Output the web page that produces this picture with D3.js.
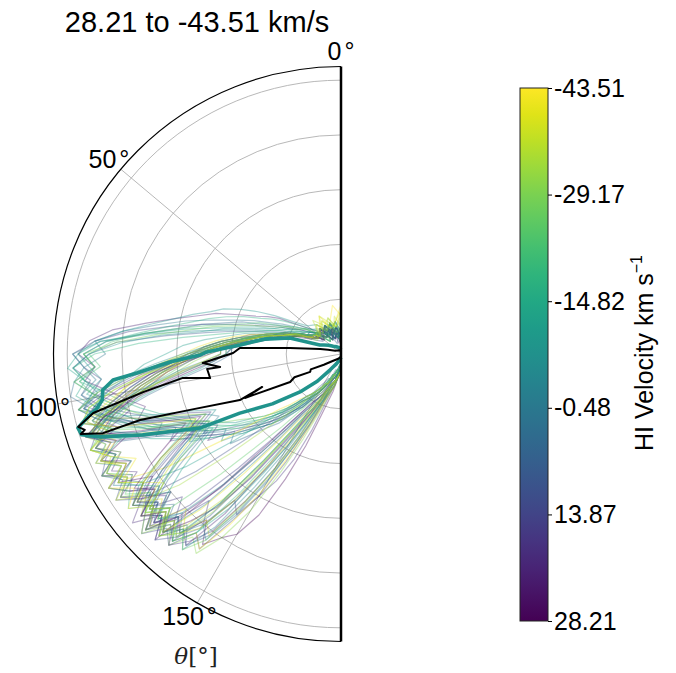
<!DOCTYPE html>
<html>
<head>
<meta charset="utf-8">
<script src="https://cdn.jsdelivr.net/npm/d3@7"></script>
<style>
  body { margin: 0; background: #fff; }
  svg { display: block; font-family: "Liberation Sans", Arial, sans-serif; }
</style>
</head>
<body>
<div id="chart"></div>
<script>
// angle grid (degrees) shared by all channel profiles: coarse near the axis, 3 deg in the lobe
const thetaGrid = [0,10,20,30,40,50,55,
  60,63,66,69,72,75,78,81,84,87,
  90,93,96,99,102,105,108,111,114,117,
  120,123,126,129,132,135,138,141,144,147,
  150,153,156,159,162,
  168,174,180];

// HI velocity of each channel (km/s), same order as channelRadii
const velocities = [21.9,14.2,8.7,3.1,0.2,-5.4,-8.2,-9.6,-13.8,-16.6,-18.0,-22.2,-27.8,
  27.5,24.8,19.6,17.0,12.8,11.5,5.9,-2.6,-11.0,-19.4,-25.0,-30.6,-33.4,-36.2,-39.0,-41.8,-43.5,
  26.0,23.3,18.3,15.5,10.1,7.3,4.5,-1.2,-4.0,-6.8,-12.4,-20.8,-26.4,-32.0,-37.6,-40.4];

// radial profile of each channel, one value per thetaGrid entry
const channelRadii = [
  [0.4,0.3,0.6,0.4,0.5,0.7,0.9, 1.3,1.5,1.7,2.0,2.4,2.7,3.1,3.6,4.2,4.6, 4.8,4.5,4.7,4.3,4.0,3.7,3.9,3.4,3.1,2.8, 2.6,2.9,2.4,2.1,1.9,1.7,1.5,1.3,1.2,1.0, 0.9,0.8,0.7,0.6,0.5, 0.4,0.3,0.2],
  [0.5,0.3,0.4,0.6,0.5,0.6,0.7, 0.9,1.0,1.2,1.4,1.7,2.1,2.6,3.2,3.9,4.5, 4.9,4.7,4.4,4.6,4.2,4.4,4.0,3.6,3.3,3.5, 3.0,2.7,2.5,2.2,2.0,1.8,1.6,1.3,1.1,0.9, 0.8,0.7,0.6,0.5,0.4, 0.3,0.3,0.2],
  [0.3,0.5,0.4,0.3,0.6,0.5,0.6, 0.7,0.8,0.9,1.1,1.3,1.6,2.0,2.5,3.2,4.1, 4.6,4.9,4.6,4.8,4.5,4.1,3.7,3.4,3.0,2.7, 2.9,2.5,2.2,2.0,1.7,1.5,1.2,1.0,0.9,0.7, 0.6,0.5,0.5,0.4,0.3, 0.3,0.2,0.2],
  [0.2,0.4,0.6,0.4,0.5,0.6,0.7, 0.9,1.1,1.3,1.5,1.9,2.2,2.6,3.0,3.6,4.3, 4.7,4.5,4.9,5.0,4.7,4.4,4.1,3.8,3.5,3.2, 3.0,2.7,2.4,2.6,2.2,1.9,1.7,1.4,1.2,1.0, 0.8,0.7,0.6,0.5,0.4, 0.3,0.3,0.2],
  [0.3,0.5,0.3,0.6,0.4,0.6,0.8, 1.0,1.2,1.4,1.7,2.0,2.4,2.9,3.4,4.0,4.5, 4.3,4.7,4.5,4.8,4.6,4.2,3.9,3.5,3.7,3.3, 2.9,2.6,2.3,2.1,1.8,1.6,1.4,1.2,1.0,0.8, 0.7,0.6,0.5,0.4,0.4, 0.3,0.2,0.2],
  [0.4,0.6,0.5,0.3,0.5,0.6,0.7, 0.8,0.9,1.0,1.2,1.4,1.7,2.1,2.7,3.5,4.4, 4.9,4.7,4.9,4.6,4.8,4.5,4.2,3.8,3.4,3.1, 2.8,2.5,2.7,2.3,2.0,1.8,1.5,1.3,1.1,0.9, 0.8,0.7,0.6,0.5,0.4, 0.3,0.3,0.2],
  [0.3,0.4,0.6,0.5,0.7,0.8,1.0, 1.4,1.7,2.0,2.3,2.5,2.8,3.1,3.5,4.0,4.5, 4.8,4.6,4.4,4.7,4.3,4.0,3.6,3.3,3.0,2.8, 2.5,2.3,2.0,1.8,1.6,1.4,1.2,1.0,0.9,0.8, 0.7,0.6,0.5,0.4,0.4, 0.3,0.2,0.2],
  [0.4,0.3,0.5,0.4,0.6,0.7,0.8, 0.9,1.0,1.2,1.3,1.5,1.8,2.2,2.6,3.3,4.0, 4.6,4.9,4.7,4.5,4.8,4.4,4.0,3.7,3.3,3.0, 3.2,2.8,2.5,2.2,1.9,1.7,1.5,1.3,1.1,0.9, 0.8,0.7,0.6,0.5,0.4, 0.3,0.3,0.2],
  [0.5,0.4,0.3,0.6,0.4,0.6,0.7, 0.8,1.0,1.1,1.3,1.6,1.9,2.3,2.9,3.6,4.4, 4.8,5.0,4.7,4.9,4.6,4.3,4.5,4.1,3.8,3.4, 3.1,2.8,2.5,2.3,2.0,1.8,1.6,1.4,1.2,1.0, 0.8,0.7,0.6,0.5,0.4, 0.4,0.3,0.2],
  [0.3,0.5,0.4,0.6,0.5,0.7,0.9, 1.2,1.4,1.6,1.9,2.2,2.5,2.8,3.2,3.7,4.3, 4.7,4.5,4.8,4.4,4.1,3.8,3.5,3.2,2.9,3.1, 2.7,2.4,2.2,1.9,1.7,1.5,1.3,1.1,1.0,0.9, 0.8,0.7,0.6,0.5,0.4, 0.3,0.2,0.2],
  [0.3,0.6,0.4,0.5,0.3,0.6,0.7, 0.8,0.9,1.1,1.2,1.4,1.6,1.9,2.3,2.9,3.7, 4.5,4.9,4.7,4.4,4.6,4.2,3.9,3.6,3.2,2.9, 2.6,2.4,2.1,1.9,1.7,1.5,1.3,1.1,1.0,0.8, 0.7,0.6,0.5,0.5,0.4, 0.3,0.3,0.2],
  [0.2,0.4,0.3,0.5,0.6,0.6,0.8, 1.0,1.1,1.3,1.6,1.8,2.1,2.5,3.0,3.6,4.2, 4.6,4.4,4.8,4.6,4.3,4.5,4.1,3.7,3.4,3.0, 2.8,2.5,2.3,2.0,1.8,1.6,1.4,1.2,1.0,0.9, 0.8,0.7,0.6,0.5,0.4, 0.3,0.2,0.2],
  [0.5,0.3,0.4,0.5,0.7,0.6,0.8, 0.9,1.1,1.2,1.4,1.7,2.0,2.4,2.8,3.4,4.1, 4.7,4.5,4.9,4.6,4.4,4.0,3.7,3.3,3.0,2.7, 2.5,2.2,2.0,1.8,1.6,1.4,1.2,1.1,0.9,0.8, 0.7,0.6,0.5,0.4,0.4, 0.3,0.3,0.2],
  [0.2,0.4,0.3,0.5,0.4,0.6,0.5, 0.6,0.7,0.8,0.9,1.0,1.2,1.4,1.6,1.9,2.2, 2.5,2.8,3.2,3.5,3.9,4.3,4.6,4.2,4.8,4.4, 4.7,4.1,4.5,4.0,4.6,4.2,4.4,3.9,4.3,4.0, 3.8,3.3,2.5,1.8,1.2, 0.7,0.4,0.2],
  [0.3,0.2,0.5,0.3,0.6,0.4,0.5, 0.6,0.7,0.8,1.0,1.1,1.3,1.5,1.8,2.0,2.3, 2.6,2.9,3.3,3.7,4.1,4.5,4.9,4.5,4.8,4.3, 4.9,4.6,4.2,4.7,4.4,4.8,3.2,2.1,1.5,1.2, 1.0,0.9,0.8,0.7,0.6, 0.5,0.3,0.2],
  [0.2,0.5,0.4,0.3,0.5,0.6,0.5, 0.7,0.8,0.9,1.0,1.2,1.4,1.7,1.9,2.2,2.5, 2.7,3.0,3.4,3.8,4.2,4.0,4.5,4.8,4.4,4.7, 4.3,4.8,4.5,4.9,4.4,4.7,4.3,4.5,3.6,2.4, 1.6,1.2,0.9,0.7,0.6, 0.5,0.3,0.2],
  [0.3,0.4,0.5,0.6,0.4,0.5,0.6, 0.6,0.8,0.9,1.0,1.2,1.3,1.5,1.8,2.1,2.4, 2.8,3.1,3.5,3.9,4.3,4.6,4.3,4.8,4.5,4.9, 4.4,4.6,4.1,4.4,3.9,4.3,3.6,4.0,3.3,3.5, 3.0,2.6,2.1,1.5,1.0, 0.6,0.4,0.3],
  [0.3,0.4,0.3,0.5,0.4,0.6,0.5, 0.6,0.7,0.8,0.9,1.1,1.3,1.5,1.7,2.0,2.3, 2.6,3.0,3.4,3.8,4.1,4.5,4.8,4.4,4.7,4.9, 4.5,4.8,4.4,4.6,4.9,4.5,4.7,4.2,4.4,3.6, 3.0,2.2,1.5,1.1,0.8, 0.6,0.4,0.2],
  [0.2,0.3,0.5,0.4,0.6,0.5,0.4, 0.5,0.6,0.8,0.9,1.0,1.2,1.4,1.6,1.9,2.2, 2.5,2.9,3.2,3.6,4.0,4.4,4.7,4.9,4.5,4.8, 4.6,4.9,4.5,3.4,2.3,1.6,1.3,1.1,1.0,0.9, 0.8,0.7,0.6,0.5,0.5, 0.4,0.3,0.2],
  [0.4,0.3,0.2,0.5,0.4,0.6,0.5, 0.6,0.7,0.9,1.0,1.2,1.4,1.6,1.9,2.2,2.5, 2.8,3.1,3.5,3.9,4.3,4.7,4.4,4.8,4.5,4.9, 4.6,4.3,4.7,4.4,4.8,4.2,4.5,3.5,2.4,1.7, 1.3,1.1,0.9,0.7,0.6, 0.5,0.3,0.2],
  [0.2,0.3,0.4,0.5,0.3,0.6,0.5, 0.6,0.7,0.8,1.0,1.1,1.3,1.6,1.8,2.1,2.4, 2.7,3.0,3.3,3.7,4.0,4.4,4.8,4.6,4.9,4.5, 4.8,4.4,4.7,4.3,4.6,4.1,4.4,4.0,4.2,3.5, 2.7,1.9,1.4,1.0,0.8, 0.6,0.4,0.2],
  [0.2,0.5,0.4,0.3,0.6,0.5,0.6, 0.7,0.8,1.0,1.1,1.3,1.5,1.8,2.1,2.5,2.9, 3.2,3.6,3.9,4.3,4.6,4.8,4.5,4.9,4.6,4.3, 4.7,4.4,3.5,2.5,1.8,1.4,1.2,1.0,0.9,0.8, 0.7,0.6,0.6,0.5,0.4, 0.4,0.3,0.2],
  [0.4,0.3,0.5,0.4,0.3,0.6,0.5, 0.6,0.7,0.8,1.0,1.1,1.3,1.5,1.8,2.0,2.3, 2.6,2.9,3.3,3.6,4.0,4.4,4.7,4.3,4.8,4.5, 4.9,4.6,4.8,4.4,4.7,4.3,4.6,4.2,3.1,2.2, 1.6,1.3,1.0,0.8,0.6, 0.5,0.3,0.2],
  [0.3,0.5,0.6,0.4,0.5,0.4,0.6, 0.6,0.7,0.8,0.9,1.1,1.2,1.4,1.7,1.9,2.2, 2.5,2.8,3.1,3.5,3.9,4.2,4.6,4.9,4.5,4.8, 4.4,4.7,4.3,4.6,4.2,3.1,2.2,1.7,1.3,1.1, 0.9,0.8,0.7,0.6,0.5, 0.4,0.3,0.2],
  [0.2,0.4,0.5,0.3,0.4,0.6,0.5, 0.5,0.6,0.8,0.9,1.0,1.2,1.4,1.6,1.8,2.1, 2.4,2.7,3.0,3.4,3.8,4.1,4.5,4.8,4.4,4.9, 4.5,4.8,4.3,4.6,4.9,4.4,4.7,4.3,4.5,4.0, 3.3,2.4,1.7,1.2,0.9, 0.6,0.4,0.2],
  [0.6,0.4,0.5,0.7,0.5,0.6,0.5, 0.6,0.7,0.8,1.0,1.1,1.3,1.5,1.8,2.1,2.4, 2.7,3.0,3.4,3.8,4.2,4.5,4.9,4.6,4.8,4.4, 4.7,4.3,4.6,3.8,2.7,1.9,1.5,1.2,1.0,0.9, 0.8,0.7,0.6,0.5,0.5, 0.4,0.3,0.3],
  [0.5,0.7,0.4,0.6,0.8,0.5,0.6, 0.6,0.7,0.9,1.0,1.2,1.4,1.6,1.9,2.2,2.5, 2.8,3.2,3.6,4.0,4.3,4.7,4.4,4.9,4.6,4.8, 4.5,4.9,4.4,4.7,4.3,4.6,4.2,3.4,2.5,1.8, 1.4,1.1,0.9,0.7,0.6, 0.5,0.4,0.2],
  [0.8,0.5,0.7,0.6,0.4,0.6,0.5, 0.6,0.7,0.8,0.9,1.1,1.3,1.5,1.7,2.0,2.3, 2.6,2.9,3.3,3.7,4.1,4.4,4.8,4.5,4.9,4.4, 4.7,4.3,4.6,4.2,4.5,4.0,4.3,3.9,4.1,3.2, 2.5,1.8,1.3,1.0,0.8, 0.6,0.4,0.3],
  [0.9,0.6,0.5,0.8,0.6,0.5,0.6, 0.7,0.8,0.9,1.1,1.2,1.4,1.7,2.0,2.3,2.6, 2.9,3.3,3.7,4.0,4.4,4.8,4.5,4.9,4.6,4.2, 4.6,3.8,2.7,1.9,1.5,1.3,1.1,1.0,0.9,0.8, 0.7,0.6,0.6,0.5,0.4, 0.4,0.3,0.3],
  [0.7,0.9,0.6,0.5,0.7,0.5,0.6, 0.6,0.7,0.8,1.0,1.1,1.3,1.5,1.7,2.0,2.3, 2.6,2.9,3.2,3.6,4.0,4.3,4.7,4.4,4.8,4.5, 4.9,4.5,4.8,4.4,4.7,4.3,4.6,4.2,4.4,3.7, 2.9,2.1,1.5,1.1,0.8, 0.6,0.4,0.3],
  [0.3,0.5,0.4,0.6,0.5,0.4,0.6, 0.6,0.7,0.8,0.9,1.0,1.2,1.3,1.5,1.7,2.0, 2.1,2.3,2.7,3.2,3.8,4.5,4.8,3.9,3.1,3.5, 4.0,4.5,4.2,4.7,4.3,4.6,4.1,3.6,2.8,2.0, 1.5,1.2,1.0,0.8,0.7, 0.5,0.4,0.2],
  [0.4,0.3,0.5,0.4,0.6,0.5,0.5, 0.6,0.6,0.7,0.9,1.0,1.1,1.3,1.5,1.8,2.1, 2.4,2.9,3.5,4.1,4.6,4.9,4.3,3.4,2.8,3.2, 3.8,4.3,4.7,4.4,4.8,4.2,3.3,2.3,1.7,1.3, 1.1,0.9,0.8,0.7,0.6, 0.5,0.3,0.2],
  [0.2,0.4,0.5,0.3,0.6,0.5,0.6, 0.7,0.8,0.9,1.0,1.2,1.3,1.5,1.7,1.9,2.2, 2.2,2.4,2.8,3.3,3.9,4.5,4.9,4.4,3.6,3.0, 3.4,3.9,4.4,4.1,4.6,4.3,4.7,4.4,4.0,3.2, 2.4,1.7,1.2,0.9,0.7, 0.5,0.4,0.2],
  [0.5,0.4,0.3,0.5,0.6,0.4,0.6, 0.6,0.7,0.8,1.0,1.1,1.2,1.4,1.6,1.9,2.2, 2.6,3.1,3.7,4.3,4.8,4.5,3.8,3.0,2.6,2.9, 3.5,4.1,4.6,4.3,4.7,3.9,2.8,2.0,1.5,1.2, 1.0,0.9,0.8,0.6,0.5, 0.4,0.3,0.2],
  [0.3,0.5,0.4,0.6,0.4,0.5,0.6, 0.7,0.8,0.8,1.0,1.1,1.3,1.4,1.6,1.8,2.1, 2.1,2.4,2.9,3.4,4.0,4.6,4.8,4.0,3.3,2.9, 3.3,3.8,4.3,4.7,4.4,4.8,4.5,4.1,3.3,2.5, 1.9,1.4,1.1,0.9,0.7, 0.5,0.4,0.2],
  [0.4,0.3,0.6,0.5,0.4,0.6,0.5, 0.6,0.7,0.9,1.0,1.1,1.3,1.5,1.7,2.0,2.3, 2.7,3.2,3.8,4.4,4.9,4.6,4.0,3.2,2.7,3.0, 3.6,4.2,4.6,4.3,4.8,4.4,4.6,3.8,2.7,1.9, 1.4,1.1,0.9,0.7,0.6, 0.5,0.3,0.2],
  [0.3,0.4,0.3,0.5,0.6,0.5,0.6, 0.7,0.7,0.8,1.0,1.1,1.2,1.4,1.6,1.8,2.0, 2.0,2.2,2.5,3.0,3.6,4.3,4.9,4.5,3.7,3.1, 2.8,3.3,3.9,4.4,4.1,4.6,4.2,4.5,4.1,3.4, 2.6,1.9,1.4,1.0,0.8, 0.6,0.4,0.2],
  [0.5,0.3,0.4,0.6,0.5,0.6,0.7, 0.7,0.8,0.9,1.1,1.2,1.4,1.6,1.8,2.1,2.4, 2.8,3.3,3.9,4.5,4.9,4.6,4.1,3.3,2.7,2.5, 2.9,3.5,4.1,4.5,4.2,4.6,3.7,2.6,1.9,1.4, 1.2,1.0,0.8,0.7,0.6, 0.5,0.3,0.2],
  [0.3,0.5,0.4,0.3,0.5,0.6,0.6, 0.7,0.8,0.9,1.0,1.2,1.3,1.5,1.7,2.0,2.2, 2.2,2.5,3.0,3.5,4.1,4.7,4.6,4.0,3.2,2.8, 3.1,3.6,4.0,4.5,4.2,4.6,4.3,4.6,3.9,2.9, 2.1,1.5,1.1,0.9,0.7, 0.5,0.4,0.2],
  [0.4,0.6,0.5,0.4,0.6,0.5,0.7, 0.7,0.8,1.0,1.1,1.2,1.4,1.6,1.9,2.2,2.5, 2.9,3.4,4.0,4.6,4.9,4.4,3.6,2.9,2.5,2.8, 3.3,3.9,4.4,4.0,4.5,4.1,3.2,2.3,1.7,1.3, 1.1,0.9,0.8,0.7,0.5, 0.4,0.3,0.2],
  [0.3,0.4,0.6,0.4,0.5,0.6,0.6, 0.7,0.8,0.9,1.0,1.1,1.3,1.5,1.7,1.9,2.0, 2.1,2.3,2.6,3.1,3.7,4.4,4.9,4.3,3.5,2.9, 2.7,3.1,3.6,4.1,4.5,4.2,4.6,4.2,3.5,2.6, 1.9,1.4,1.1,0.9,0.7, 0.5,0.3,0.2],
  [0.4,0.3,0.5,0.6,0.4,0.6,0.6, 0.7,0.8,0.9,1.0,1.2,1.3,1.5,1.8,2.0,2.3, 2.7,3.1,3.6,4.2,4.7,4.9,4.4,3.7,3.0,3.3, 3.8,4.4,4.1,4.6,4.3,4.7,4.4,3.5,2.4,1.7, 1.3,1.1,0.9,0.7,0.6, 0.5,0.3,0.2],
  [0.5,0.4,0.6,0.5,0.3,0.5,0.6, 0.6,0.7,0.8,0.9,1.1,1.2,1.4,1.6,1.8,2.1, 2.1,2.4,2.8,3.4,4.0,4.6,4.5,3.8,3.1,2.7, 3.0,3.5,4.0,4.5,4.2,4.7,4.3,4.6,4.2,3.3, 2.4,1.7,1.2,0.9,0.7, 0.6,0.4,0.3],
  [0.6,0.5,0.7,0.5,0.6,0.5,0.6, 0.7,0.8,0.9,1.0,1.2,1.4,1.6,1.8,2.1,2.4, 2.8,3.3,3.9,4.5,4.9,4.5,3.8,3.1,2.7,3.1, 3.7,4.3,4.7,4.4,4.8,4.3,4.5,3.7,2.6,1.8, 1.4,1.1,0.9,0.7,0.6, 0.5,0.4,0.3],
  [0.7,0.5,0.6,0.8,0.5,0.6,0.5, 0.6,0.7,0.8,1.0,1.1,1.3,1.5,1.7,1.9,2.2, 2.2,2.5,2.9,3.4,4.0,4.6,4.8,4.1,3.4,2.9, 3.2,3.7,4.2,4.6,4.3,4.7,4.4,4.1,3.3,2.4, 1.8,1.3,1.0,0.8,0.7, 0.5,0.4,0.3],
  [0.8,0.6,0.5,0.7,0.6,0.5,0.6, 0.6,0.7,0.9,1.0,1.1,1.3,1.5,1.7,2.0,2.3, 2.6,3.0,3.6,4.2,4.7,4.9,4.3,3.5,2.9,3.2, 3.8,4.3,4.0,4.5,4.2,4.6,3.8,2.8,2.0,1.5, 1.2,1.0,0.8,0.7,0.6, 0.5,0.4,0.3]
];

// thick highlighted profile
const highlightVelocity = -8.5;
const highlightTheta = [0,15,30,45,55,62,66.8,72.6,79,84.9,89.1,90.4,92.7,95.3,96.5,98.6,100.9,102.5,104.1,105.7,107.3,109,112.2,117.7,120.3,126,132.8,139,145.5,155,165,180];
const highlightR = [0.08,0.12,0.15,0.2,0.28,0.35,0.42,0.98,1.42,1.85,2.45,2.57,3.13,3.74,4.19,4.40,4.44,4.56,4.78,4.99,4.96,4.65,3.91,2.91,2.14,1.55,1.02,0.66,0.35,0.2,0.12,0.06];

// black reference profile
const blackTheta = [0,30,60,72,76.6,83.3,86.6,89.5,93.7,96.1,96.4,100.4,98.6,100.9,103.4,105.5,106.5,107.1,108.4,108.2,110.3,114.5,112.7,114.6,118.8,116.5,120.1,117.0,122,130,150,180];
const blackR = [0.05,0.08,0.12,0.25,0.39,0.94,1.85,1.97,2.53,2.22,2.46,2.43,2.92,3.68,4.65,4.98,4.88,4.97,4.58,3.86,2.94,2.03,1.56,1.93,1.06,0.95,0.65,0.62,0.37,0.2,0.1,0.05];

const ringValues = [1, 2, 3, 4, 5];
const thetaTicks = [0, 50, 100, 150];
const cbarTicks = [28.21, 13.87, -0.48, -14.82, -29.17, -43.51];
const velRange = [28.21, -43.51];

class HalfPolarChart {
    constructor(container) {
        this.container = container;
        this.width = 676;
        this.height = 673;
        this.cx = 341;
        this.cy = 354;
        this.radius = 287.5;
        this.rMax = 5.25;
        this.color = d3.scaleSequential(d3.interpolateViridis).domain(velRange);
    }

    draw() {
        const svg = d3.select(this.container)
            .append("svg")
            .attr("width", this.width)
            .attr("height", this.height);

        const r = d3.scaleLinear().domain([0, this.rMax]).range([0, this.radius]);
        const toRad = d => -d * Math.PI / 180;
        const R = this.radius;

        const g = svg.append("g")
            .attr("transform", `translate(${this.cx},${this.cy})`);

        // radial rings (left half only)
        ringValues.forEach(v => {
            const p = d3.path();
            p.arc(0, 0, r(v), -Math.PI / 2, Math.PI / 2, true);
            g.append("path")
                .attr("d", p.toString())
                .attr("fill", "none")
                .attr("stroke", "#b0b0b0")
                .attr("stroke-width", 0.9);
        });

        // angular grid
        thetaTicks.filter(t => t > 0).forEach(t => {
            g.append("line")
                .attr("x1", 0).attr("y1", 0)
                .attr("x2", R * Math.sin(toRad(t)))
                .attr("y2", -R * Math.cos(toRad(t)))
                .attr("stroke", "#b0b0b0")
                .attr("stroke-width", 0.9);
        });

        const line = d3.lineRadial()
            .angle(d => toRad(d[0]))
            .radius(d => r(d[1]));

        // faint channel profiles
        channelRadii.forEach((radii, i) => {
            g.append("path")
                .datum(thetaGrid.map((t, j) => [t, radii[j]]))
                .attr("d", line)
                .attr("fill", "none")
                .attr("stroke", this.color(velocities[i]))
                .attr("stroke-opacity", 0.38)
                .attr("stroke-width", 1.2)
                .attr("stroke-linejoin", "round");
        });

        g.append("path")
            .datum(highlightTheta.map((t, j) => [t, highlightR[j]]))
            .attr("d", line)
            .attr("fill", "none")
            .attr("stroke", this.color(highlightVelocity))
            .attr("stroke-width", 3.6)
            .attr("stroke-linejoin", "round");

        g.append("path")
            .datum(blackTheta.map((t, j) => [t, blackR[j]]))
            .attr("d", line)
            .attr("fill", "none")
            .attr("stroke", "#000")
            .attr("stroke-width", 2)
            .attr("stroke-linejoin", "round");

        // spines
        const outer = d3.path();
        outer.arc(0, 0, R, -Math.PI / 2, Math.PI / 2, true);
        g.append("path")
            .attr("d", outer.toString())
            .attr("fill", "none")
            .attr("stroke", "#000")
            .attr("stroke-width", 1.2);
        g.append("line")
            .attr("x1", 0).attr("y1", -R)
            .attr("x2", 0).attr("y2", R)
            .attr("stroke", "#000")
            .attr("stroke-width", 2.5);

        // theta tick labels
        const labelR = 303;
        thetaTicks.forEach(t => {
            const txt = g.append("text")
                .attr("x", labelR * Math.sin(toRad(t)))
                .attr("y", -labelR * Math.cos(toRad(t)))
                .attr("text-anchor", "middle")
                .attr("dominant-baseline", "central")
                .attr("font-size", 25)
                .attr("fill", "#000");
            txt.append("tspan").text(t);
            txt.append("tspan").attr("dx", 3).text("°");
        });

        // title
        svg.append("text")
            .attr("x", 197)
            .attr("y", 32)
            .attr("text-anchor", "middle")
            .attr("font-size", 29)
            .text("28.21 to -43.51 km/s");

        // axis label
        const xl = svg.append("text")
            .attr("x", 196)
            .attr("y", 664)
            .attr("text-anchor", "middle")
            .attr("font-family", "'DejaVu Serif', serif")
            .attr("font-size", 23)
            .attr("fill", "#222");
        xl.append("tspan").attr("font-style", "italic").text("θ");
        xl.append("tspan").text("[°]");

        // colorbar
        const cb = { x: 520, y: 88, w: 28, h: 533 };
        const grad = svg.append("defs").append("linearGradient")
            .attr("id", "viridisGrad")
            .attr("x1", 0).attr("y1", 1).attr("x2", 0).attr("y2", 0);
        d3.range(0, 1.0001, 0.05).forEach(t => {
            grad.append("stop")
                .attr("offset", t)
                .attr("stop-color", d3.interpolateViridis(t));
        });
        svg.append("rect")
            .attr("x", cb.x).attr("y", cb.y)
            .attr("width", cb.w).attr("height", cb.h)
            .attr("fill", "url(#viridisGrad)")
            .attr("stroke", "#222")
            .attr("stroke-width", 1);

        const cbScale = d3.scaleLinear().domain(velRange).range([cb.y + cb.h, cb.y]);
        const cbAxis = svg.append("g")
            .attr("transform", `translate(${cb.x + cb.w},0)`)
            .call(d3.axisRight(cbScale)
                .tickValues(cbarTicks)
                .tickSize(4)
                .tickPadding(2)
                .tickFormat(d => d.toFixed(2)));
        cbAxis.select(".domain").remove();
        cbAxis.selectAll("text")
            .attr("font-size", 25)
            .attr("font-family", "'Liberation Sans', Arial, sans-serif")
            .attr("fill", "#000");
        cbAxis.selectAll("line").attr("stroke", "#000");

        const cl = svg.append("text")
            .attr("transform", "translate(653,353) rotate(-90)")
            .attr("text-anchor", "middle")
            .attr("font-size", 25);
        cl.append("tspan").text("HI Velocity km s");
        cl.append("tspan").attr("font-size", 16).attr("dy", -11).text("−1");
    }
}

const chart = new HalfPolarChart("#chart");
chart.draw();
</script>
</body>
</html>
